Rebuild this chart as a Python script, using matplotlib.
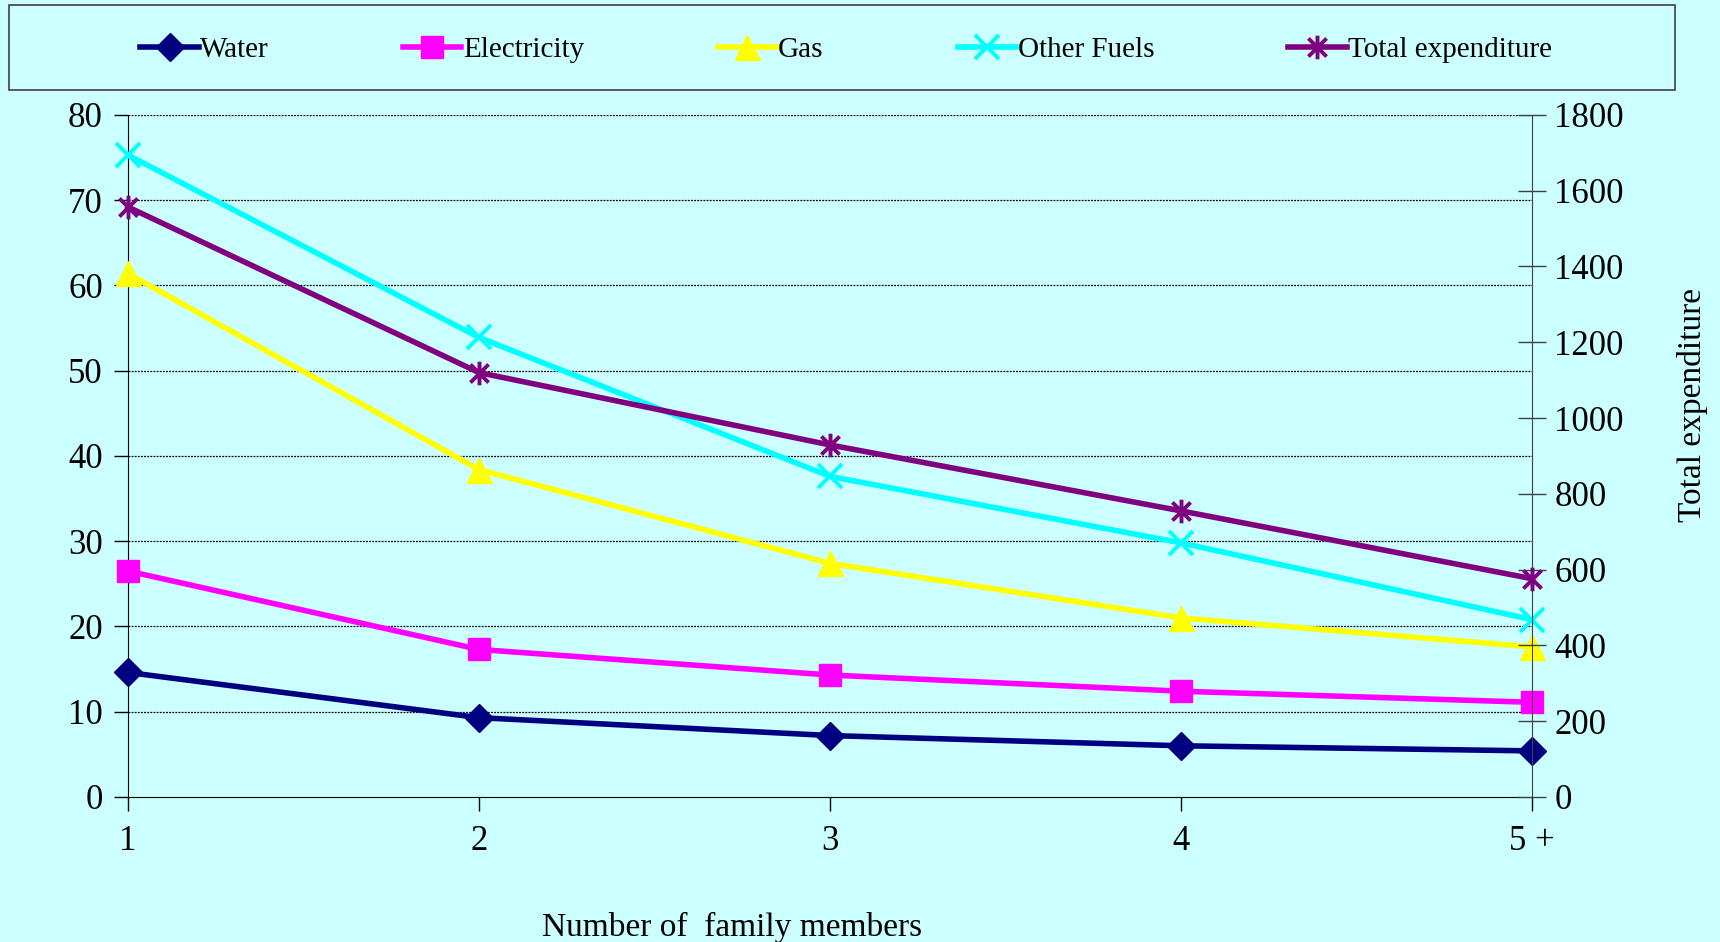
import numpy as np
import matplotlib.pyplot as plt
from matplotlib.path import Path

members = ['1', '2', '3', '4', '5 +']
water = [14.6, 9.3, 7.2, 6.0, 5.4]
electricity = [26.5, 17.3, 14.3, 12.4, 11.1]
gas = [61.4, 38.4, 27.4, 21.0, 17.6]
other_fuels = [75.3, 53.9, 37.6, 29.8, 20.8]
total_exp = [1557, 1120, 929, 755, 576]

bg = '#CCFFFF'
plt.rcParams['font.family'] = ['Liberation Serif', 'DejaVu Serif']

# asterisk marker like Excel's: x plus vertical bar
star = Path([(-1, -1), (1, 1), (-1, 1), (1, -1), (0, -1.3), (0, 1.3)],
            [Path.MOVETO, Path.LINETO, Path.MOVETO, Path.LINETO, Path.MOVETO, Path.LINETO])

fig = plt.figure(figsize=(17.2, 9.42), dpi=100, facecolor=bg)
ax = fig.add_axes([0.0744, 0.154, 0.8163, 0.724])
ax.set_facecolor(bg)
ax2 = ax.twinx()

x = np.arange(len(members))
lw = 4
h1, = ax.plot(x, water, color='#000080', lw=lw, marker='D', ms=14, label='Water', clip_on=False, zorder=5)
h2, = ax.plot(x, electricity, color='#FF00FF', lw=lw, marker='s', ms=16, label='Electricity', clip_on=False, zorder=5)
h3, = ax.plot(x, gas, color='#FFFF00', lw=lw, marker='^', ms=18, label='Gas', clip_on=False, zorder=5)
h4, = ax.plot(x, other_fuels, color='#00FFFF', lw=lw, marker='x', ms=17, mew=2.8, label='Other Fuels', clip_on=False, zorder=5)
h5, = ax2.plot(x, total_exp, color='#800080', lw=lw, marker=star, ms=17, mew=2.8, label='Total expenditure', clip_on=False, zorder=5)

ax.set_xlim(0, 4)
ax.set_ylim(0, 80)
ax2.set_ylim(0, 1800)
ax.set_yticks(np.arange(0, 81, 10))
ax2.set_yticks(np.arange(0, 1801, 200))
ax.set_xticks(x)
ax.set_xticklabels(members)

for g in range(10, 81, 10):
    ax.axhline(g, color='black', lw=0.9, ls=(0, (1.5, 1)), zorder=1)

for a in (ax, ax2):
    a.spines['top'].set_visible(False)
ax.spines['right'].set_visible(False)
ax2.spines['left'].set_visible(False)
ax2.spines['bottom'].set_visible(False)
ax2.spines['right'].set_color('#404040')
ax.spines['left'].set_color('black')
ax.spines['bottom'].set_color('black')

ax.tick_params(axis='y', direction='out', length=10, width=1, labelsize=25, pad=8)
ax.tick_params(axis='x', direction='out', length=10, width=1, labelsize=25, pad=10)
ax2.tick_params(axis='y', direction='inout', length=20, width=1, color='#404040', labelsize=25, pad=6)

fig.text(0.4256, 0.015, 'Number of  family members', fontsize=24, ha='center', va='center')
fig.text(0.984, 0.57, 'Total expenditure', fontsize=24, rotation=90, ha='center', va='center')

leg = fig.legend(handles=[h1, h2, h3, h4, h5], loc='center', bbox_to_anchor=(0.492, 0.947),
                 ncol=5, fontsize=21, frameon=False,
                 handlelength=2.0, handletextpad=0.05, columnspacing=4.6)
fig.patches.append(plt.Rectangle((0.005, 0.904), 0.969, 0.091, transform=fig.transFigure,
                                 fill=False, edgecolor='#404040', lw=1.2))

fig.savefig('out.png', dpi=100, facecolor=bg)
